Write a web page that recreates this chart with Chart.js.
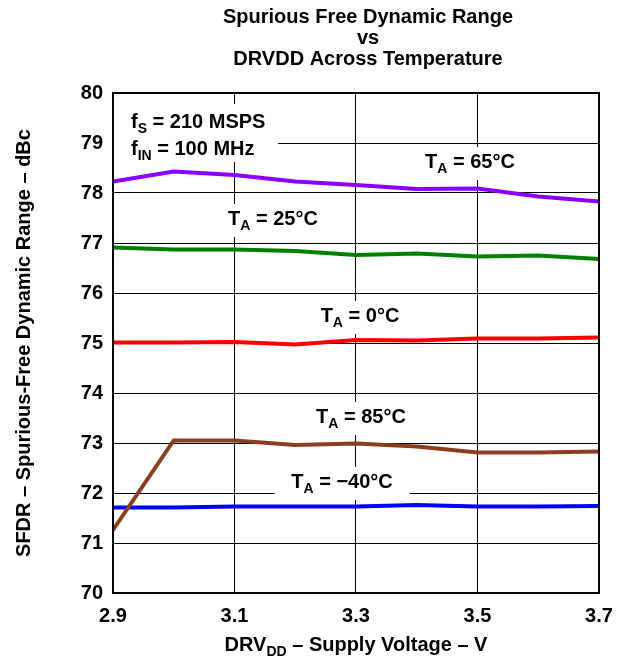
<!DOCTYPE html>
<html>
<head>
<meta charset="utf-8">
<script src="https://cdn.jsdelivr.net/npm/chart.js@4.4.1/dist/chart.umd.min.js"></script>
<style>
  body { margin: 0; background: #fff; }
  #wrap { width: 640px; height: 662px; }
</style>
</head>
<body>
<div id="wrap"><canvas id="sfdrChart" width="640" height="662"></canvas></div>
<script>
// Supply voltage (V) and SFDR readings (dBc) for each temperature
const voltage = [2.9, 3.0, 3.1, 3.2, 3.3, 3.4, 3.5, 3.6, 3.7]
const sfdr65 = [78.23, 78.43, 78.36, 78.23, 78.16, 78.08, 78.09, 77.93, 77.83]
const sfdr25 = [76.91, 76.87, 76.87, 76.84, 76.76, 76.79, 76.73, 76.75, 76.68]
const sfdr0 = [75.01, 75.01, 75.02, 74.97, 75.06, 75.05, 75.09, 75.09, 75.11]
const sfdr85 = [71.26, 73.05, 73.05, 72.96, 72.99, 72.93, 72.81, 72.81, 72.83]
const sfdrMinus40 = [71.71, 71.71, 71.73, 71.73, 71.73, 71.76, 71.73, 71.73, 71.74]

const xTicks = [2.9, 3.1, 3.3, 3.5, 3.7]
const yMin = 70
const yMax = 80

const FONT = '"Liberation Sans", Arial, sans-serif'
const MAIN = 'bold 20px ' + FONT
const SUB = 'bold 14px ' + FONT

function toPoints(values) {
  return values.map((v, i) => ({ x: voltage[i], y: v }))
}

// draw text made of parts, some of them subscript
function richWidth(ctx, parts) {
  let w = 0
  parts.forEach(p => {
    ctx.font = p.sub ? SUB : MAIN
    w += ctx.measureText(p.t).width
  })
  return w
}

function drawRich(ctx, parts, x, y, align) {
  const w = richWidth(ctx, parts)
  let cx = align === 'center' ? x - w / 2 : x
  ctx.textBaseline = 'middle'
  ctx.textAlign = 'left'
  ctx.fillStyle = '#000'
  parts.forEach(p => {
    ctx.font = p.sub ? SUB : MAIN
    ctx.fillText(p.t, cx, p.sub ? y + 7 : y)
    cx += ctx.measureText(p.t).width
  })
  return w
}

function tempLabel(t) {
  return [{ t: 'T' }, { t: 'A', sub: true }, { t: ' = ' + t + '\u00B0C' }]
}

const labels = [
  { parts: tempLabel('65'), x: 470, y: 162 },
  { parts: tempLabel('25'), x: 273, y: 219 },
  { parts: tempLabel('0'), x: 360, y: 316 },
  { parts: tempLabel('85'), x: 361, y: 417 },
  { parts: tempLabel('\u221240'), x: 342, y: 482, boxW: 135 }
]

const annotations = {
  id: 'annotations',
  beforeDatasetsDraw(chart) {
    const ctx = chart.ctx
    const area = chart.chartArea
    ctx.save()
    // conditions box
    ctx.fillStyle = '#fff'
    ctx.fillRect(area.left + 1, 104, 164, 58)
    drawRich(ctx, [{ t: 'f' }, { t: 'S', sub: true }, { t: ' = 210 MSPS' }], 131, 122, 'left')
    drawRich(ctx, [{ t: 'f' }, { t: 'IN', sub: true }, { t: ' = 100 MHz' }], 131, 149, 'left')

    labels.forEach(l => {
      const w = richWidth(ctx, l.parts)
      const bw = l.boxW || w + 12
      ctx.fillStyle = '#fff'
      ctx.fillRect(l.x - bw / 2, l.y - 15, bw, 33)
      drawRich(ctx, l.parts, l.x, l.y, 'center')
    })
    ctx.restore()
  },
  afterDraw(chart) {
    const ctx = chart.ctx
    const area = chart.chartArea
    ctx.save()
    // plot frame
    ctx.strokeStyle = '#000'
    ctx.lineWidth = 2
    ctx.strokeRect(area.left, area.top, area.right - area.left, area.bottom - area.top)

    // title
    ctx.fillStyle = '#000'
    ctx.font = MAIN
    ctx.textAlign = 'center'
    ctx.textBaseline = 'middle'
    ctx.fillText('Spurious Free Dynamic Range', 368, 17)
    ctx.fillText('vs', 368, 38)
    ctx.fillText('DRVDD Across Temperature', 368, 59)

    // x axis title
    drawRich(ctx, [{ t: 'DRV' }, { t: 'DD', sub: true }, { t: ' \u2013 Supply Voltage \u2013 V' }],
      (area.left + area.right) / 2, 645, 'center')

    // y axis title
    ctx.translate(24, (area.top + area.bottom) / 2)
    ctx.rotate(-Math.PI / 2)
    ctx.font = MAIN
    ctx.textAlign = 'center'
    ctx.textBaseline = 'middle'
    ctx.fillText('SFDR \u2013 Spurious-Free Dynamic Range \u2013 dBc', 0, 0)
    ctx.restore()
  }
}

function lineSet(label, values, color) {
  return {
    label: label,
    data: toPoints(values),
    borderColor: color,
    backgroundColor: color,
    borderWidth: 4,
    pointRadius: 0,
    tension: 0
  }
}

new Chart(document.getElementById('sfdrChart').getContext('2d'), {
  type: 'line',
  data: {
    datasets: [
      lineSet('TA = 65°C', sfdr65, '#8B00FF'),
      lineSet('TA = 25°C', sfdr25, '#008000'),
      lineSet('TA = 0°C', sfdr0, '#FF0000'),
      lineSet('TA = 85°C', sfdr85, '#8B3E1F'),
      lineSet('TA = -40°C', sfdrMinus40, '#0000FF')
    ]
  },
  options: {
    responsive: false,
    animation: false,
    devicePixelRatio: 1,
    layout: { padding: { left: 0, top: 93, right: 41, bottom: 0 } },
    plugins: {
      legend: { display: false },
      tooltip: { enabled: false }
    },
    scales: {
      x: {
        type: 'linear',
        min: 2.9,
        max: 3.7,
        afterBuildTicks: scale => {
          scale.ticks = xTicks.map(v => ({ value: v }))
        },
        afterFit: scale => {
          scale.height = 69
        },
        grid: { color: '#000', lineWidth: 1, drawTicks: false },
        border: { display: false },
        ticks: {
          padding: 11,
          color: '#000',
          font: { family: FONT, size: 20, weight: 'bold' },
          callback: v => v.toFixed(1),
          maxRotation: 0
        }
      },
      y: {
        min: yMin,
        max: yMax,
        afterFit: scale => {
          scale.width = 113
        },
        grid: { color: '#000', lineWidth: 1, drawTicks: false },
        border: { display: false },
        ticks: {
          stepSize: 1,
          padding: 10,
          color: '#000',
          font: { family: FONT, size: 20, weight: 'bold' }
        }
      }
    }
  },
  plugins: [annotations]
})
</script>
</body>
</html>
